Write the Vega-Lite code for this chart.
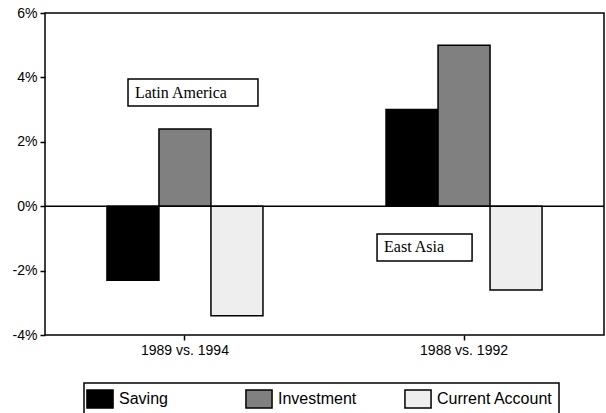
{
  "$schema": "https://vega.github.io/schema/vega-lite/v6.json",
  "autosize": {"type": "none"},
  "padding": {"left": 45, "top": 13, "right": 2, "bottom": 78},
  "width": 559,
  "height": 322,
  "background": "white",
  "config": {
    "view": {"stroke": "black", "strokeWidth": 1.5},
    "axis": {"labelFont": "Liberation Sans", "labelFontSize": 14, "labelColor": "black", "domainColor": "black", "domainWidth": 1.5, "tickColor": "black", "tickWidth": 1.5, "grid": false, "title": null},
    "legend": {"labelFont": "Liberation Sans", "labelFontSize": 16, "labelColor": "black"}
  },
  "datasets": {
    "bars": [
      {"period": "1989 vs. 1994", "series": "Saving", "value": -2.3},
      {"period": "1989 vs. 1994", "series": "Investment", "value": 2.4},
      {"period": "1989 vs. 1994", "series": "Current Account", "value": -3.4},
      {"period": "1988 vs. 1992", "series": "Saving", "value": 3.0},
      {"period": "1988 vs. 1992", "series": "Investment", "value": 5.0},
      {"period": "1988 vs. 1992", "series": "Current Account", "value": -2.6}
    ],
    "notes": [
      {"label": "Latin America", "x1": 0.297, "x2": 0.762, "y1": 3.95, "y2": 3.11, "tx": 0.322, "ty": 3.53},
      {"label": "East Asia", "x1": 1.188, "x2": 1.528, "y1": -0.86, "y2": -1.70, "tx": 1.213, "ty": -1.28}
    ]
  },
  "layer": [
    {
      "data": {"name": "bars"},
      "mark": {"type": "bar", "stroke": "black", "strokeWidth": 1.5},
      "encoding": {
        "x": {"field": "period", "type": "nominal", "sort": ["1989 vs. 1994", "1988 vs. 1992"],
              "scale": {"paddingInner": 0.441, "paddingOuter": 0.222},
              "axis": {"labelAngle": 0, "tickSize": 5, "labelPadding": 3, "domain": false}},
        "xOffset": {"field": "series", "type": "nominal", "sort": ["Saving", "Investment", "Current Account"],
                    "scale": {"paddingInner": 0, "paddingOuter": 0}},
        "y": {"field": "value", "type": "quantitative",
              "scale": {"domain": [-4, 6], "nice": false, "zero": false},
              "axis": {"values": [-4, -3, -2, -1, 0, 1, 2, 3, 4, 5, 6],
                       "labelExpr": "abs(datum.value) % 2 === 0 ? datum.value + '%' : ''",
                       "tickSize": 5,
                       "labelPadding": 3, "domain": false}},
        "color": {"field": "series", "type": "nominal", "sort": ["Saving", "Investment", "Current Account"],
                  "scale": {"domain": ["Saving", "Investment", "Current Account"], "range": ["#000000", "#808080", "#eeeeee"]},
                  "legend": {"title": null, "orient": "none", "legendX": 39, "legendY": 370, "direction": "horizontal", "columns": 3,
                             "gridAlign": "all", "columnPadding": 7, "labelOffset": 9, "padding": 6,
                             "strokeColor": "black", "fillColor": "white",
                             "symbolType": "M-1.45,-1L1.45,-1L1.45,1L-1.45,1Z", "symbolSize": 324,
                             "symbolStrokeColor": "black", "symbolStrokeWidth": 1.5,
                             "encode": {"legend": {"update": {"strokeWidth": {"value": 1.5}}}}}}
      }
    },
    {
      "data": {"values": [{"y": 0}]},
      "mark": {"type": "rule", "color": "black", "strokeWidth": 1.5},
      "encoding": {"y": {"field": "y", "type": "quantitative"}}
    },
    {
      "data": {"name": "notes"},
      "layer": [
        {
          "mark": {"type": "rect", "fill": "white", "stroke": "black", "strokeWidth": 1.5},
          "encoding": {
            "x": {"field": "x1", "type": "quantitative", "scale": {"domain": [0, 2], "nice": false, "zero": false}, "axis": null},
            "x2": {"field": "x2"},
            "y": {"field": "y1", "type": "quantitative"},
            "y2": {"field": "y2"}
          }
        },
        {
          "mark": {"type": "text", "align": "left", "baseline": "middle", "font": "Liberation Serif", "fontSize": 16, "color": "black"},
          "encoding": {
            "x": {"field": "tx", "type": "quantitative", "scale": {"domain": [0, 2], "nice": false, "zero": false}, "axis": null},
            "y": {"field": "ty", "type": "quantitative"},
            "text": {"field": "label"}
          }
        }
      ]
    }
  ],
  "resolve": {"scale": {"x": "independent"}, "axis": {"x": "independent"}}
}
